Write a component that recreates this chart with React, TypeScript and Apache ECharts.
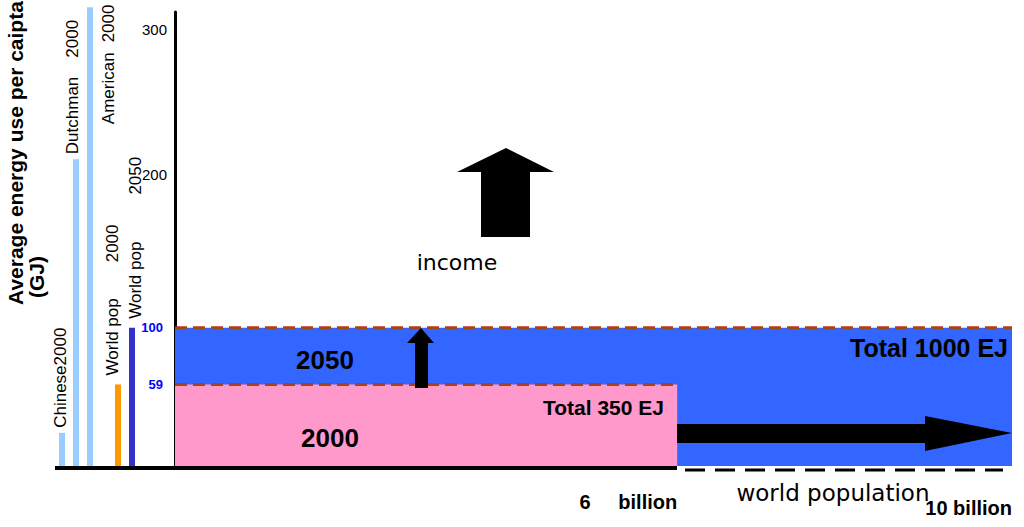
import React, { useEffect, useRef } from "react";
import * as echarts from "echarts";

// ---- data ----
const barNames = ["Chinese", "Dutchman", "American", "", "World pop", "World pop"];
const barYears = ["2000", "2000", "2000", "", "2000", "2050"];
const perCapitaGJ = [24, 222, 332, null, 59, 100];

const scenarioYears = ["2050", "2000"];
const popBillion = [10, 6];
const avgUseGJ = [100, 59];
const totalEJ = [1000, 350];

const popTicks = [6, 10];
const useTicksMarked = [59, 100];
const useTicksMain = [200, 300];

// ---- styles ----
const barColors = ["#99ccff", "#99ccff", "#99ccff", "#99ccff", "#ff9900", "#3333cc"];
const labelPos: [number, number][] = [[1, -5], [-1, -5], [21, 117], [0, 0], [-3, -9], [6, -9]];
const labelGaps = [0, 19, 10, 0, 36, 47];
const rectColors = ["#3366ff", "#ff99cc"];
const FONT = "Liberation Sans";

export default function App() {
  const ref = useRef<HTMLDivElement>(null);
  useEffect(() => {
    const chart = echarts.init(ref.current!, null, { renderer: "svg" });

    const barData = perCapitaGJ.map((v, i) => ({
      value: v,
      itemStyle: { color: barColors[i] },
      label: {
        show: v != null,
        position: labelPos[i],
        rotate: 90,
        align: "left",
        verticalAlign: "middle",
        formatter: labelGaps[i] > 0 ? `{n|${barNames[i]}}{g| }{n|${barYears[i]}}` : `{n|${barNames[i]}${barYears[i]}}`,
        rich: {
          n: { fontSize: 17, fontFamily: FONT, color: "#000" },
          g: { width: labelGaps[i], fontSize: 17 },
        },
      },
    }));

    const rectData = popBillion.map((p, i) => [0, p, avgUseGJ[i], i]);

    const option: any = {
      animation: false,
      textStyle: { fontFamily: FONT },
      grid: [
        { left: 55, width: 84, top: 3, bottom: 61 },
        { left: 175, right: 12, top: 3, bottom: 61 },
        { left: 175, right: 12, top: 12, bottom: 61 },
      ],
      xAxis: [
        { type: "category", gridIndex: 0, data: barNames.map((n, i) => n + barYears[i]), show: false },
        {
          type: "value", gridIndex: 1, min: 0, max: 10,
          axisLine: { show: false }, axisTick: { show: false }, splitLine: { show: false },
          axisLabel: {
            customValues: popTicks,
            align: "right",
            verticalAlign: "top",
            margin: 25,
            formatter: (v: number) => (v === 10 ? `{b|${v} billion}` : `{a|${v}     billion}`),
            rich: {
              a: { fontSize: 20, fontWeight: "bold", color: "#000", fontFamily: FONT, lineHeight: 22 },
              b: { fontSize: 20, fontWeight: "bold", color: "#000", fontFamily: FONT, lineHeight: 22, padding: [11, 0, 0, 0] },
            },
          },
        },
        { type: "value", gridIndex: 2, min: 0, max: 10, show: false },
      ],
      yAxis: [
        { type: "value", gridIndex: 0, min: 0, max: 335, show: false },
        {
          type: "value", gridIndex: 1, min: 0, max: 335, position: "left", offset: 3,
          axisLine: { show: false }, axisTick: { show: false }, splitLine: { show: false },
          axisLabel: { customValues: useTicksMarked, color: "#0000ff", fontWeight: "bold", fontSize: 13, margin: 9 },
        },
        {
          type: "value", gridIndex: 2, min: 0, max: 312, position: "left", offset: 3,
          axisLine: { show: true, lineStyle: { color: "#000", width: 3 } },
          axisTick: { show: false }, splitLine: { show: false },
          axisLabel: { customValues: useTicksMain, color: "#000", fontSize: 15, margin: 5 },
        },
      ],
      series: [
        {
          type: "bar", xAxisIndex: 0, yAxisIndex: 0, barWidth: 6, data: barData,
        },
        {
          type: "custom", xAxisIndex: 1, yAxisIndex: 1,
          encode: { x: [0, 1], y: 2 },
          data: rectData,
          renderItem: (params: any, api: any) => {
            const x0 = api.value(0), x1 = api.value(1), top = api.value(2), idx = api.value(3);
            const p0 = api.coord([x0, 0]);
            const p1 = api.coord([x1, top]);
            return {
              type: "group",
              children: [
                { type: "rect", shape: { x: p0[0], y: p1[1], width: p1[0] - p0[0], height: p0[1] - p1[1] }, style: { fill: rectColors[idx] } },
                { type: "line", shape: { x1: p0[0], y1: p1[1], x2: p1[0], y2: p1[1] }, style: { stroke: "#a5421c", lineWidth: 3, lineDash: [12, 6] } },
              ],
            };
          },
        },
      ],
      graphic: [
        { type: "line", z: 50, shape: { x1: 55, y1: 468, x2: 677, y2: 468 }, style: { stroke: "#000", lineWidth: 4 } },
        { type: "line", z: 50, shape: { x1: 685, y1: 470, x2: 1003, y2: 470 }, style: { stroke: "#000", lineWidth: 3, lineDash: [20, 10] } },
        { type: "polygon", z: 50, shape: { points: [[506, 148], [554, 172], [530, 172], [530, 237], [481, 237], [481, 172], [457, 172]] }, style: { fill: "#000" } },
        { type: "polygon", z: 50, shape: { points: [[421, 328], [434, 343], [428, 343], [428, 388], [415, 388], [415, 343], [407, 343]] }, style: { fill: "#000" } },
        { type: "polygon", z: 50, shape: { points: [[677, 424], [925, 424], [925, 416], [1012, 433], [925, 451], [925, 443], [677, 443]] }, style: { fill: "#000" } },
        { type: "text", z: 50, x: 15, y: 305, rotation: Math.PI / 2, style: { text: "Average energy use per caipta", font: `bold 21px "${FONT}"`, fill: "#000", textAlign: "left", textVerticalAlign: "middle" } },
        { type: "text", z: 50, x: 36, y: 277, rotation: Math.PI / 2, style: { text: "(GJ)", font: `bold 21px "${FONT}"`, fill: "#000", textAlign: "center", textVerticalAlign: "middle" } },
        { type: "text", z: 50, x: 457, y: 262, style: { text: "income", font: `22px "DejaVu Sans"`, fill: "#000", textAlign: "center", textVerticalAlign: "middle" } },
        { type: "text", z: 50, x: 833, y: 493, style: { text: "world population", font: `23px "DejaVu Sans"`, fill: "#000", textAlign: "center", textVerticalAlign: "middle" } },
        { type: "text", z: 50, x: 325, y: 360, style: { text: scenarioYears[0], font: `bold 26px "${FONT}"`, fill: "#000", textAlign: "center", textVerticalAlign: "middle" } },
        { type: "text", z: 50, x: 330, y: 438, style: { text: scenarioYears[1], font: `bold 26px "${FONT}"`, fill: "#000", textAlign: "center", textVerticalAlign: "middle" } },
        { type: "text", z: 50, x: 1008, y: 348, style: { text: `Total ${totalEJ[0]} EJ`, font: `bold 25px "${FONT}"`, fill: "#000", textAlign: "right", textVerticalAlign: "middle" } },
        { type: "text", z: 50, x: 664, y: 407, style: { text: `Total ${totalEJ[1]} EJ`, font: `bold 21px "${FONT}"`, fill: "#000", textAlign: "right", textVerticalAlign: "middle" } },
      ],
    };

    chart.setOption(option);
    return () => chart.dispose();
  }, []);
  return <div ref={ref} style={{ position: "absolute", left: 0, top: 0, width: 1024, height: 527 }} />;
}
